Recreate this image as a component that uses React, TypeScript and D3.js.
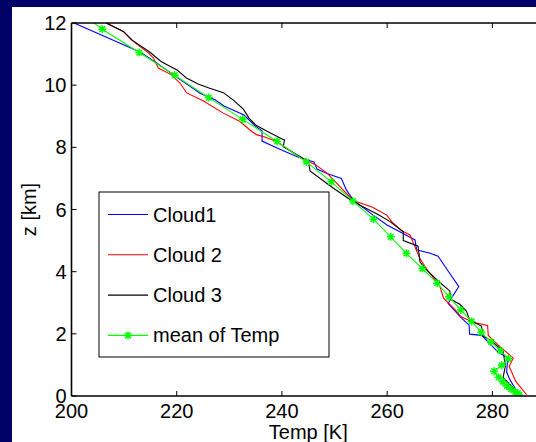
import React from "react";
import * as d3 from "d3";

const xTicks = [200, 220, 240, 260, 280];
const yTicks = [0, 2, 4, 6, 8, 10, 12];

const cloud1T = [200.48, 213.02, 216.25, 219.68, 222.53, 224.43, 227.28, 228.99, 232.79, 234.89, 236.22, 236.22, 239.07, 242.88, 244.78, 246.1, 246.67, 248.57, 251.29, 252.24, 253.52, 257.32, 259.98, 263.02, 265.3, 265.59, 268.16, 269.68, 271.58, 273.62, 271.58, 273.95, 275.57, 275.67, 277.95, 281.08, 282.93, 282.7, 283.37, 284.32, 284.98];
const cloud1Z = [12.0, 11.07, 10.71, 10.29, 9.96, 9.74, 9.53, 9.33, 9.04, 8.69, 8.53, 8.2, 7.98, 7.7, 7.59, 7.53, 7.3, 7.16, 7.0, 6.63, 6.31, 5.82, 5.5, 5.23, 5.02, 4.7, 4.59, 4.5, 4.02, 3.52, 2.98, 2.54, 2.28, 1.99, 1.95, 1.41, 1.22, 0.77, 0.51, 0.25, 0.02];

const cloud2T = [206.69, 209.85, 211.44, 214.6, 215.55, 216.5, 218.92, 220.63, 221.9, 225.0, 228.86, 232.03, 234.32, 235.27, 236.6, 239.07, 243.25, 245.15, 246.29, 248.57, 253.52, 257.13, 259.92, 260.87, 262.74, 264.35, 265.3, 266.25, 267.78, 270.0, 270.72, 272.85, 274.14, 276.33, 279.09, 279.22, 281.43, 283.97, 283.18, 284.45, 286.5];
const cloud2Z = [12.0, 11.73, 11.45, 11.04, 10.88, 10.55, 10.34, 10.07, 9.75, 9.5, 9.1, 8.83, 8.5, 8.4, 8.34, 8.18, 7.7, 7.54, 7.45, 7.17, 6.29, 6.08, 5.82, 5.61, 5.32, 5.18, 4.79, 4.41, 4.02, 3.54, 3.15, 2.79, 2.54, 2.37, 2.27, 1.95, 1.59, 1.22, 0.96, 0.47, 0.04];

const cloud3T = [206.56, 209.85, 211.6, 214.92, 217.02, 218.16, 220.06, 221.77, 224.05, 226.14, 228.86, 230.76, 232.66, 233.75, 234.98, 237.36, 240.21, 240.49, 240.25, 243.82, 245.06, 245.34, 249.39, 252.57, 255.1, 258.27, 260.55, 263.06, 263.06, 265.87, 266.25, 267.53, 269.68, 271.9, 272.09, 273.8, 275.06, 275.7, 277.91, 278.23, 279.81, 282.03, 282.47, 282.03, 283.94, 284.13];
const cloud3Z = [12.0, 11.73, 11.44, 11.06, 10.76, 10.66, 10.49, 10.24, 10.04, 9.91, 9.76, 9.52, 9.23, 8.94, 8.72, 8.5, 8.25, 8.24, 8.02, 7.67, 7.5, 7.24, 6.73, 6.36, 6.11, 5.84, 5.61, 5.28, 5.0, 4.82, 4.31, 4.05, 3.7, 3.38, 3.11, 2.95, 2.73, 2.44, 2.25, 1.93, 1.77, 1.45, 0.97, 0.59, 0.27, 0.05];

const meanT = [200.4, 205.86, 212.89, 219.62, 226.08, 232.55, 239.07, 244.64, 249.39, 253.52, 257.38, 260.68, 263.65, 266.69, 269.49, 271.77, 273.99, 276.05, 277.89, 279.75, 281.5, 283.02, 281.79, 280.32, 281.18, 281.98, 282.74, 283.56, 284.32, 284.83, 285.1];
const meanZ = [12.5, 11.8, 11.05, 10.32, 9.6, 8.9, 8.19, 7.53, 6.89, 6.27, 5.69, 5.12, 4.59, 4.1, 3.63, 3.19, 2.77, 2.4, 2.05, 1.74, 1.46, 1.2, 0.99, 0.8, 0.6, 0.46, 0.32, 0.22, 0.14, 0.09, 0.03];

const legendLabels = ["Cloud1", "Cloud 2", "Cloud 3", "mean of Temp"];
const seriesColors = ["#0000ff", "#ff0000", "#000000", "#00ff00"];

const W = 536;
const H = 442;
const FONT = "'Liberation Sans', Arial, Helvetica, sans-serif";
const FS = 20;

const starPath = (r: number) => {
  const d = r * 0.7071;
  return `M${-r},0L${r},0M0,${-r}L0,${r}M${-d},${-d}L${d},${d}M${-d},${d}L${d},${-d}`;
};

export default function App() {
  const x = d3.scaleLinear().domain([200, 290]).range([71.5, 545]);
  const y = d3.scaleLinear().domain([0, 12]).range([396, 23]);
  const line = d3
    .line<[number, number]>()
    .x((d) => x(d[0]))
    .y((d) => y(d[1]));

  const toPts = (T: number[], Z: number[]) => T.map((t, i) => [t, Z[i]] as [number, number]);
  const series = [
    toPts(cloud1T, cloud1Z),
    toPts(cloud2T, cloud2Z),
    toPts(cloud3T, cloud3Z),
    toPts(meanT, meanZ),
  ];

  const x0 = x(200);
  const x1 = x(290);
  const y0 = y(0);
  const y1 = y(12);

  const legX = 99;
  const legY = 192;
  const legW = 230;
  const legH = 165;
  const rowY = (i: number) => 214.5 + i * 40.3;

  return (
    <svg
      width={W}
      height={H}
      style={{ position: "absolute", left: 0, top: 0, display: "block" }}
      fontFamily={FONT}
    >
      <rect x={0} y={0} width={W} height={H} fill="#000066" />
      <rect x={12} y={7} width={W - 12} height={H - 7} fill="#ffffff" />
      <defs>
        <clipPath id="plotclip">
          <rect x={x0} y={y1} width={x1 - x0} height={y0 - y1} />
        </clipPath>
      </defs>
      <g clipPath="url(#plotclip)">
        {series.map((pts, i) => (
          <path key={i} d={line(pts) || ""} fill="none" stroke={seriesColors[i]} strokeWidth={1.1} />
        ))}
        {series[3].map((p, i) => (
          <path
            key={"m" + i}
            d={starPath(4)}
            transform={`translate(${x(p[0])},${y(p[1])})`}
            stroke="#00ff00"
            strokeWidth={1.5}
            fill="none"
          />
        ))}
      </g>
      {/* axes box */}
      <line x1={x0} y1={y0} x2={x1} y2={y0} stroke="#000" strokeWidth={1.6} />
      <line x1={x0} y1={y1} x2={x1} y2={y1} stroke="#000" strokeWidth={1.6} />
      <line x1={x0} y1={y0} x2={x0} y2={y1} stroke="#000" strokeWidth={1.6} />
      {xTicks.map((t) => (
        <g key={"xt" + t}>
          <line x1={x(t)} x2={x(t)} y1={y0} y2={y0 - 5} stroke="#000" strokeWidth={1} />
          <line x1={x(t)} x2={x(t)} y1={y1} y2={y1 + 5} stroke="#000" strokeWidth={1} />
          <text x={x(t)} y={y0 + 22} textAnchor="middle" fontSize={FS} fill="#000">
            {t}
          </text>
        </g>
      ))}
      {yTicks.map((t) => (
        <g key={"yt" + t}>
          <line x1={x0} x2={x0 + 5} y1={y(t)} y2={y(t)} stroke="#000" strokeWidth={1} />
          <text x={x0 - 5} y={y(t)} dy="0.35em" textAnchor="end" fontSize={FS} fill="#000">
            {t}
          </text>
        </g>
      ))}
      <text x={(x0 + x1) / 2} y={438.5} textAnchor="middle" fontSize={FS} fill="#000">
        Temp [K]
      </text>
      <text
        transform={`translate(36,${(y0 + y1) / 2}) rotate(-90)`}
        textAnchor="middle"
        fontSize={FS}
        fill="#000"
      >
        z [km]
      </text>
      {/* legend */}
      <rect x={legX} y={legY} width={legW} height={legH} fill="#fff" stroke="#000" strokeWidth={1} />
      {legendLabels.map((lab, i) => (
        <g key={"lg" + i}>
          <line x1={108} x2={148} y1={rowY(i)} y2={rowY(i)} stroke={seriesColors[i]} strokeWidth={1.1} />
          {i === 3 && (
            <path
              d={starPath(4)}
              transform={`translate(128,${rowY(i)})`}
              stroke="#00ff00"
              strokeWidth={1.5}
              fill="none"
            />
          )}
          <text x={153} y={rowY(i)} dy="0.35em" fontSize={FS} fill="#000">
            {lab}
          </text>
        </g>
      ))}
    </svg>
  );
}
